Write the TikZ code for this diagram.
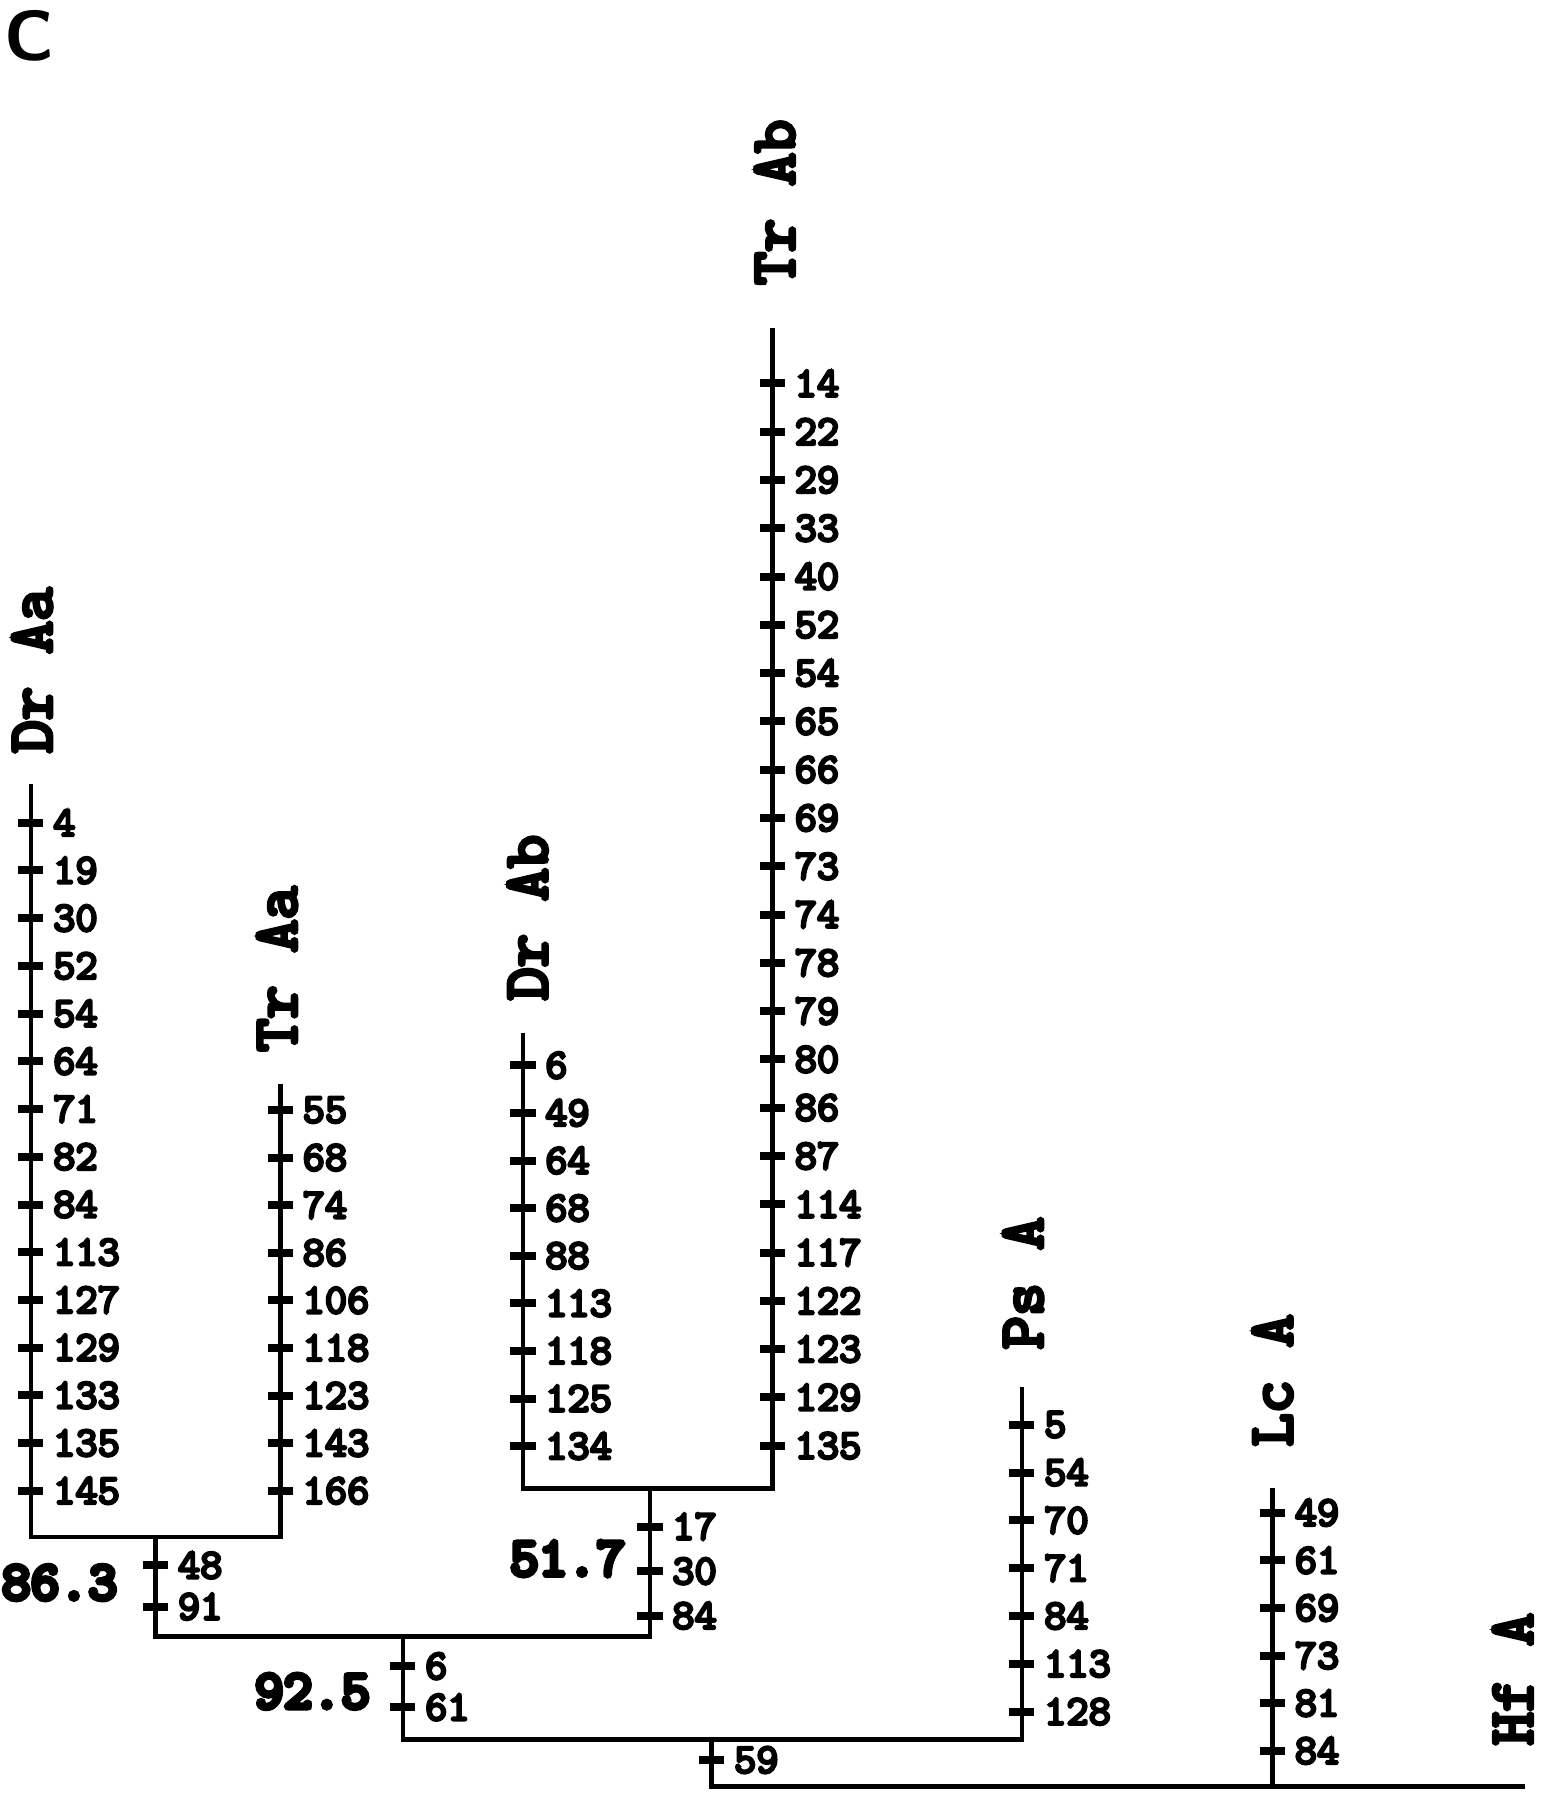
\documentclass[tikz,border=0pt]{standalone}
\usepackage{fontspec}
\setmainfont{Liberation Sans}
\newfontfamily\courfont{lmmono10-regular.otf}[FakeBold=6]
\newfontfamily\courheavy{lmmono10-regular.otf}[FakeBold=9]
\usetikzlibrary{positioning}

\begin{document}
\begin{tikzpicture}[x=1pt,y=-1pt,line width=4pt,line join=miter]
\tikzset{
  taxon/.style={rotate=90,anchor=base west,inner sep=0pt,
    font=\courfont\fontsize{55}{55}\selectfont},
  site/.style={anchor=west,inner sep=0pt,xshift=5pt,
    font=\courfont\fontsize{37}{37}\selectfont},
  boot/.style={inner sep=0pt,font=\courheavy\fontsize{48}{48}\selectfont},
  tick/.style={line width=7pt}
}
\useasboundingbox (0,0) rectangle (1352,1573);
\node[font=\sffamily\bfseries\fontsize{62}{62}\selectfont,inner sep=0pt] (panel) at (26,31) {C};

% tips of the branches and the forks
\coordinate (DrAa tip) at (27,685);
\coordinate (TrAa tip) at (245,947);
\coordinate (DrAb tip) at (457,903);
\coordinate (TrAb tip) at (675,287);
\coordinate (PsA tip) at (893,1212);
\coordinate (LcA tip) at (1112,1300);
\coordinate (HfA tip) at (1333,1561);
\coordinate (fork Aa) at (136,1343);
\coordinate (fork Ab) at (568,1301);
\coordinate (fork A) at (352,1430);
\coordinate (fork P) at (622,1520);

% taxon names
\node[taxon] (DrAa) at (45,660) {Dr Aa};
\node[taxon] (TrAa) at (259,921) {Tr Aa};
\node[taxon] (DrAb) at (478,876) {Dr Ab};
\node[taxon] (TrAb) at (694,251) {Tr Ab};
\node[taxon] (PsA) at (911,1181) {Ps A};
\node[taxon] (LcA) at (1129,1266) {Lc A};
\node[taxon] (HfA) at (1339,1527) {Hf A};

% the tree
\draw (DrAa tip) |- (fork Aa) -| (TrAa tip);
\draw (DrAb tip) |- (fork Ab) -| (TrAb tip);
\draw (fork Aa) |- (fork A) -| (fork Ab);
\draw (fork A) |- (fork P) -| (PsA tip);
\draw (fork P) |- (HfA tip);
\draw (LcA tip) -- (LcA tip |- HfA tip);

% substitutions along each branch
\foreach \br/\x/\yfirst/\dy/\sites in {
    DrAa/27/719/41.7/{4,19,30,52,54,64,71,82,84,113,127,129,133,135,145},
    TrAa/245/970/41.6/{55,68,74,86,106,118,123,143,166},
    DrAb/457/931/41.6/{6,49,64,68,88,113,118,125,134},
    TrAb/675/335/42.2/{14,22,29,33,40,52,54,65,66,69,73,74,78,79,80,86,87,114,117,122,123,129,135},
    PsA/893/1245/41.8/{5,54,70,71,84,113,128},
    LcA/1112/1322/41.6/{49,61,69,73,81,84},
    Aa/136/1368/36/{48,91},
    Ab/568/1334/39/{17,30,84},
    A/352/1456/36/{6,61},
    P/622/1538/36/{59}}
  \foreach \n [count=\i from 0] in \sites
    \draw[tick] (\x-11,\yfirst+\dy*\i) -- ++(22,0) node[site] (\br-\i) {\n};

% bootstrap values
\node[boot] (boot Aa) at (52,1383) {86.3};
\node[boot] (boot Ab) at (496,1362) {51.7};
\node[boot] (boot A) at (273,1478) {92.5};
\end{tikzpicture}
\end{document}
